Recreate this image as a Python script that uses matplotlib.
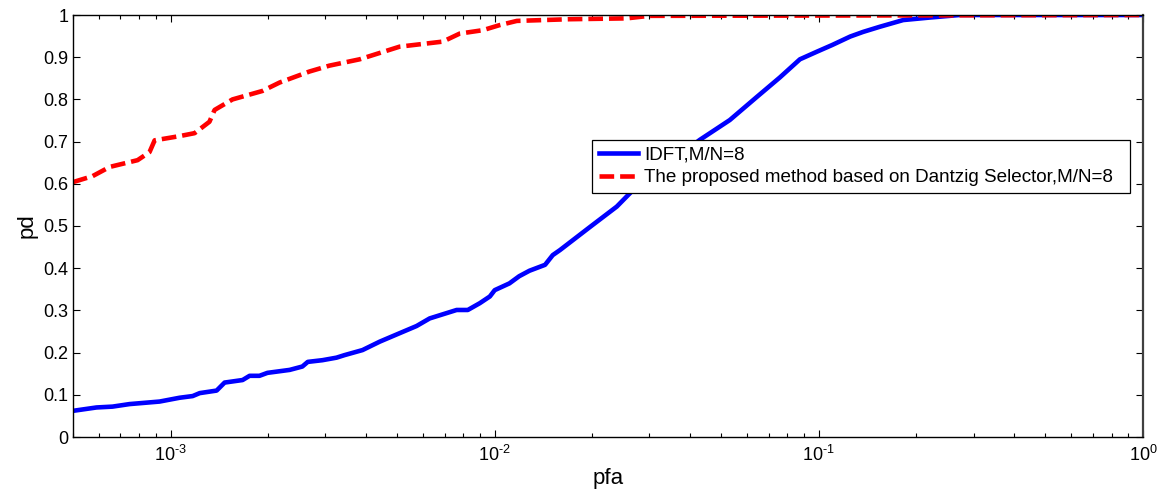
import matplotlib
matplotlib.use('Agg')
from matplotlib import pyplot as plt
import numpy as np

plt.rcParams['font.family'] = ['Liberation Sans', 'DejaVu Sans']
plt.rcParams['mathtext.fontset'] = 'custom'
plt.rcParams['mathtext.rm'] = 'Liberation Sans'
plt.rcParams['axes.unicode_minus'] = False

# IDFT curve (pfa, pd)
idft_pfa = [5.0e-4, 5.91e-4, 6.62e-4, 7.47e-4, 9.25e-4, 1.066e-3, 1.17e-3, 1.23e-3,
            1.387e-3, 1.468e-3, 1.668e-3, 1.753e-3, 1.88e-3, 1.99e-3, 2.33e-3,
            2.55e-3, 2.65e-3, 2.94e-3, 3.25e-3, 3.44e-3, 3.91e-3, 4.42e-3, 5.09e-3,
            5.74e-3, 6.30e-3, 7.63e-3, 8.26e-3, 8.99e-3, 9.66e-3, 1.0e-2, 1.11e-2,
            1.19e-2, 1.28e-2, 1.43e-2, 1.51e-2, 1.59e-2, 1.97e-2, 2.38e-2, 2.67e-2,
            3.01e-2, 4.29e-2, 5.31e-2, 6.44e-2, 7.58e-2, 8.74e-2, 9.86e-2, 0.110,
            0.125, 0.137, 0.154, 0.182, 0.220, 0.272, 1.0]
idft_pd = [0.062, 0.070, 0.072, 0.078, 0.084, 0.093, 0.097, 0.104,
           0.110, 0.129, 0.135, 0.145, 0.145, 0.152, 0.159,
           0.167, 0.178, 0.182, 0.188, 0.194, 0.206, 0.226, 0.246,
           0.263, 0.281, 0.301, 0.301, 0.317, 0.333, 0.348, 0.364,
           0.381, 0.394, 0.408, 0.431, 0.443, 0.498, 0.546, 0.585,
           0.613, 0.704, 0.751, 0.806, 0.852, 0.895, 0.913, 0.929,
           0.949, 0.960, 0.972, 0.988, 0.994, 1.0, 1.0]

# Dantzig Selector curve
ds_pfa = [5.0e-4, 5.74e-4, 6.49e-4, 7.91e-4, 8.61e-4, 8.93e-4, 1.066e-3, 1.186e-3,
          1.318e-3, 1.367e-3, 1.553e-3, 1.92e-3, 2.17e-3, 2.68e-3, 3.09e-3,
          3.83e-3, 5.09e-3, 6.92e-3, 7.80e-3, 9.19e-3, 1.035e-2, 1.17e-2,
          1.70e-2, 2.55e-2, 3.0e-2, 1.0]
ds_pd = [0.604, 0.618, 0.640, 0.656, 0.675, 0.703, 0.713, 0.720,
         0.747, 0.775, 0.800, 0.820, 0.840, 0.866, 0.880,
         0.895, 0.925, 0.937, 0.956, 0.964, 0.976, 0.986,
         0.990, 0.992, 0.998, 1.0]

labels = ['IDFT,M/N=8', 'The proposed method based on Dantzig Selector,M/N=8']
x_ticks = [1e-3, 1e-2, 1e-1, 1]
x_ticklabels = ['$10^{\u2010' + '3}$', '$10^{\u2010' + '2}$', '$10^{\u2010' + '1}$', '$10^{0}$']

fig = plt.figure(figsize=(11.61, 4.97), dpi=100)
ax = fig.add_axes([73 / 1161, 60 / 497, 1070 / 1161, 422 / 497])

ax.semilogx(idft_pfa, idft_pd, color='#0000ff', lw=3.3, label=labels[0])
ax.semilogx(ds_pfa, ds_pd, color='#ff0000', lw=3.3, ls=(0, (3.2, 1.3)), label=labels[1])

ax.set_xlim(5e-4, 1)
ax.set_ylim(0, 1)
ax.set_xticks(x_ticks)
ax.set_xticklabels(x_ticklabels)
ax.set_yticks(np.arange(0, 1.01, 0.1))
ax.set_yticklabels(['0', '0.1', '0.2', '0.3', '0.4', '0.5', '0.6', '0.7', '0.8', '0.9', '1'])

ax.tick_params(which='both', direction='in', top=True, right=True, labelsize=13)
ax.tick_params(which='major', length=5, width=0.8)
ax.tick_params(which='minor', length=3, width=0.8)
ax.tick_params(axis='x', pad=6)
for s in ax.spines.values():
    s.set_linewidth(1.0)
ax.spines['right'].set_linewidth(1.6)
ax.spines['right'].set_color('#404040')

ax.set_xlabel('pfa', fontsize=16, labelpad=2)
ax.set_ylabel('pd', fontsize=16, labelpad=4)

leg = ax.legend(loc='lower left', bbox_to_anchor=(0.485, 0.578, 0.503, 0.128),
                mode='expand', fontsize=13.6, handlelength=2.1, handletextpad=0.3,
                borderpad=0.35, labelspacing=0.3, fancybox=False, framealpha=1,
                edgecolor='black', borderaxespad=0)
leg.get_frame().set_linewidth(0.9)

plt.savefig('out.png', dpi=100)
